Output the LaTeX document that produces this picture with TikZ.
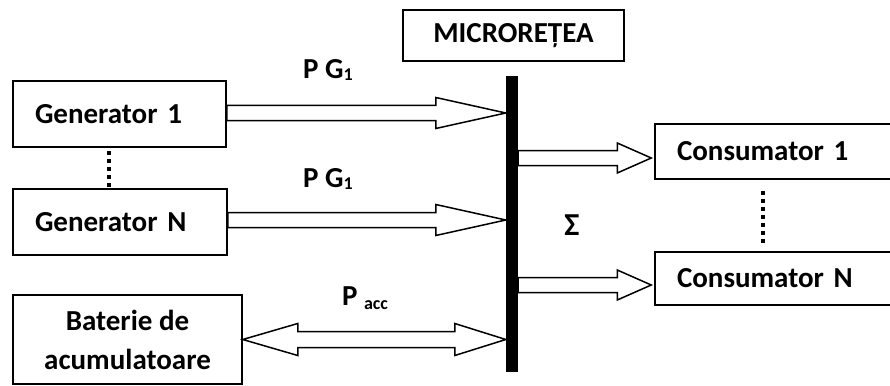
\documentclass[tikz,border=0pt]{standalone}
\usepackage{fontspec}
\setmainfont{Carlito}
\usetikzlibrary{calc}
\tikzset{
  box/.style={draw, line width=1.5pt, inner ysep=0pt, font=\fontsize{29}{39}\selectfont\bfseries},
  lbox/.style={box, align=left, inner xsep=22pt},
  lbl/.style={font=\fontsize{29}{33}\selectfont\bfseries, inner sep=0pt},
  arrowline/.style={draw, line width=1.5pt, line join=miter, fill=white},
  dotline/.style={line width=4pt, dash pattern=on 4pt off 4pt}
}
\newcommand\blkarrow[5]{\draw[arrowline] let \p1=(#1),\p2=(#2) in
  (\x1,\y1+#3) -- (\x2-#5,\y1+#3) -- (\x2-#5,\y1+#4) -- (\x2,\y1) --
  (\x2-#5,\y1-#4) -- (\x2-#5,\y1-#3) -- (\x1,\y1-#3) -- cycle;}
\newcommand\dblarrow[6]{\draw[arrowline] let \p1=(#1),\p2=(#2) in
  (\x1,\y1) -- (\x1+#5,\y1+#4) -- (\x1+#5,\y1+#3) -- (\x2-#6,\y1+#3) --
  (\x2-#6,\y1+#4) -- (\x2,\y1) -- (\x2-#6,\y1-#4) -- (\x2-#6,\y1-#3) --
  (\x1+#5,\y1-#3) -- (\x1+#5,\y1-#4) -- cycle;}
\begin{document}
\begin{tikzpicture}[x=1pt,y=-1pt]
\useasboundingbox (0,0) rectangle (890,385);
% boxes
\node[lbox, minimum width=213pt, minimum height=66pt, text width=169pt] (g1) at (119.5,114) {Generator 1};
\node[lbox, minimum width=214pt, minimum height=66pt, text width=170pt] (gN) at (120,222) {Generator N};
\node[box, align=center, minimum width=229pt, minimum height=89pt] (bat) at (127.5,339.5) {Baterie de\\acumulatoare};
\node[box, minimum width=221pt, minimum height=51pt] (micro) at (513.5,35.5) {MICROREȚEA};
\node[lbox, minimum width=245pt, minimum height=55pt, text width=201pt] (c1) at (777.5,151.5) {Consumator 1};
\node[lbox, minimum width=245pt, minimum height=53pt, text width=201pt] (cN) at (777.5,278.5) {Consumator N};
% bus
\node[fill=black, inner sep=0pt, minimum width=12pt, minimum height=296pt] (bus) at (512,224) {};
% labels
\node[lbl] (l1) at (328,70) {P G\raisebox{-0.2ex}{\fontsize{18}{20}\selectfont 1}};
\node[lbl] (l2) at (328,179) {P G\raisebox{-0.2ex}{\fontsize{18}{20}\selectfont 1}};
\node[lbl] (l3) at (365,298) {P \raisebox{-0.3ex}{\fontsize{18}{20}\selectfont acc}};
\node[font=\fontsize{32}{36}\selectfont\bfseries, inner sep=0pt] (sig) at (572,225) {Σ};
% arrows
\coordinate (a1s) at ($(g1.east)+(0,-1)$);
\coordinate (a2s) at ($(gN.east)+(0,-2)$);
\blkarrow{a1s}{bus.west |- a1s}{7.5pt}{15.5pt}{70pt}
\blkarrow{a2s}{bus.west |- a2s}{7.5pt}{15.5pt}{70pt}
\coordinate (c1in) at ($(c1.west)+(-3,6.5)$);
\coordinate (cNin) at ($(cN.west)+(-3,6.5)$);
\blkarrow{bus.east |- c1in}{c1in}{7.5pt}{15pt}{34pt}
\blkarrow{bus.east |- cNin}{cNin}{7.5pt}{15pt}{34pt}
\dblarrow{bat.east}{bus.west |- bat.east}{8pt}{16pt}{55pt}{51pt}
% dotted
\draw[dotline] ($(g1.south west)+(97,3)$) -- ($(gN.north west)+(97,-1)$);
\draw[dotline] ($(c1.south west)+(109,11)$) -- ($(cN.north west)+(109,-7)$);
\end{tikzpicture}
\end{document}
